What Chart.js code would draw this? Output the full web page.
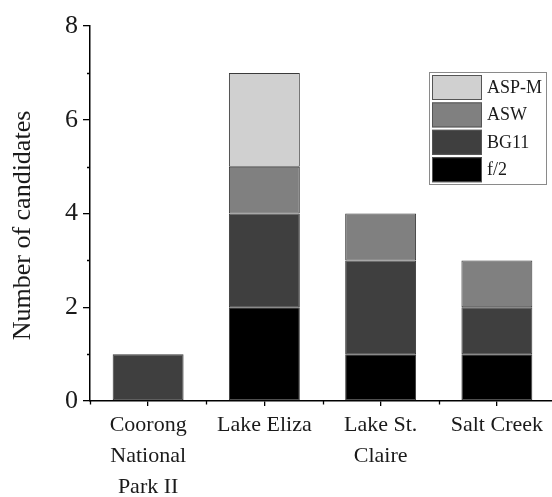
<!DOCTYPE html>
<html>
<head>
<meta charset="utf-8">
<script src="https://cdn.jsdelivr.net/npm/chart.js@4/dist/chart.umd.min.js"></script>
<style>
  html, body { margin: 0; padding: 0; background: #fff; overflow: hidden; }
  #wrap { width: 562px; height: 497px; position: relative; }
</style>
</head>
<body>
<div id="wrap"><canvas id="c" width="562" height="497"></canvas></div>
<script>
// Sampling sites and number of candidates per growth medium
const sites = [['Coorong', 'National', 'Park II'], 'Lake Eliza', ['Lake St.', 'Claire'], 'Salt Creek'];
const f2   = [0, 2, 1, 1];
const bg11 = [1, 2, 2, 1];
const asw  = [0, 1, 1, 1];
const aspm = [0, 2, 0, 0];
const yTickLabels = [0, 2, 4, 6, 8];
const yTitle = 'Number of candidates';

const FONT = "'Liberation Serif', 'DejaVu Serif', serif";
const TEXT = '#1a1a1a';

const series = [
  { label: 'f/2',   data: f2,   color: '#000000' },
  { label: 'BG11',  data: bg11, color: '#3f3f3f' },
  { label: 'ASW',   data: asw,  color: '#808080' },
  { label: 'ASP-M', data: aspm, color: '#d0d0d0' }
];

// Minor ticks between the labelled ones, and at the category boundaries
const minorTicks = {
  id: 'minorTicks',
  afterDraw(chart) {
    const { ctx, scales: { x, y }, chartArea } = chart;
    ctx.save();
    ctx.strokeStyle = '#000';
    ctx.lineWidth = 1.3;
    ctx.beginPath();
    for (let v = 1; v < 8; v += 2) {
      const py = Math.round(y.getPixelForValue(v)) + 0.5;
      ctx.moveTo(chartArea.left - 3, py);
      ctx.lineTo(chartArea.left, py);
    }
    for (let i = 0; i <= sites.length; i++) {
      const px = Math.round(x.getPixelForValue(i - 0.5)) + 0.5;
      ctx.moveTo(px, chartArea.bottom);
      ctx.lineTo(px, chartArea.bottom + 3.5);
    }
    ctx.stroke();
    ctx.restore();
  }
};

// Rotated y-axis title, sitting a little below the middle of the axis
const axisTitle = {
  id: 'axisTitle',
  afterDraw(chart) {
    const { ctx, chartArea } = chart;
    ctx.save();
    ctx.translate(23, (chartArea.top + chartArea.bottom) / 2 + 12);
    ctx.rotate(-Math.PI / 2);
    ctx.font = '26px ' + FONT;
    ctx.fillStyle = TEXT;
    ctx.textAlign = 'center';
    ctx.textBaseline = 'middle';
    ctx.fillText(yTitle, 0, 0);
    ctx.restore();
  }
};

// Boxed legend inside the plot, top entry = top of the stack
const boxLegend = {
  id: 'boxLegend',
  afterDraw(chart) {
    const { ctx, chartArea } = chart;
    const bx = chartArea.right - 126, by = chartArea.top + 46;
    const bw = 117, bh = 112;
    ctx.save();
    ctx.fillStyle = '#fff';
    ctx.fillRect(bx, by, bw, bh);
    ctx.strokeStyle = '#8a8a8a';
    ctx.lineWidth = 1;
    ctx.strokeRect(bx + 0.5, by + 0.5, bw, bh);
    const ds = chart.data.datasets.slice().reverse();
    ctx.font = '18px ' + FONT;
    ctx.textBaseline = 'middle';
    ds.forEach((d, i) => {
      const sy = by + 3 + i * 27.4;
      ctx.fillStyle = d.backgroundColor;
      ctx.fillRect(bx + 3, sy, 50, 25);
      ctx.strokeStyle = '#555';
      ctx.strokeRect(bx + 3.5, sy + 0.5, 49, 24);
      ctx.fillStyle = TEXT;
      ctx.fillText(d.label, bx + 58, sy + 13);
    });
    ctx.restore();
  }
};

new Chart(document.getElementById('c'), {
  type: 'bar',
  data: {
    labels: sites,
    datasets: series.map(s => ({
      label: s.label,
      data: s.data,
      backgroundColor: s.color,
      borderColor: '#3a3a3a',
      borderWidth: 1,
      borderSkipped: false,
      barPercentage: 0.61,
      categoryPercentage: 1
    }))
  },
  options: {
    responsive: false,
    animation: false,
    layout: { padding: { left: 4, top: 26, right: 7, bottom: 0 } },
    plugins: { legend: { display: false }, tooltip: { enabled: false } },
    scales: {
      x: {
        stacked: true,
        afterFit(s) { s.height = 96; },
        border: { color: '#000', width: 1.5 },
        grid: { drawOnChartArea: false, offset: false, tickLength: 5, color: '#000', lineWidth: 1.3 },
        ticks: {
          color: TEXT,
          font: { family: FONT, size: 22, lineHeight: 1.43 },
          padding: 3,
          maxRotation: 0,
          autoSkip: false
        }
      },
      y: {
        stacked: true,
        min: 0,
        max: 8,
        afterFit(s) { s.width = 86; },
        afterBuildTicks(s) { s.ticks = yTickLabels.map(v => ({ value: v })); },
        border: { color: '#000', width: 1.5 },
        grid: { drawOnChartArea: false, tickLength: 7, color: '#000', lineWidth: 1.3 },
        ticks: {
          color: TEXT,
          font: { family: FONT, size: 26 },
          padding: 5
        }
      }
    }
  },
  plugins: [minorTicks, axisTitle, boxLegend]
});
</script>
</body>
</html>
